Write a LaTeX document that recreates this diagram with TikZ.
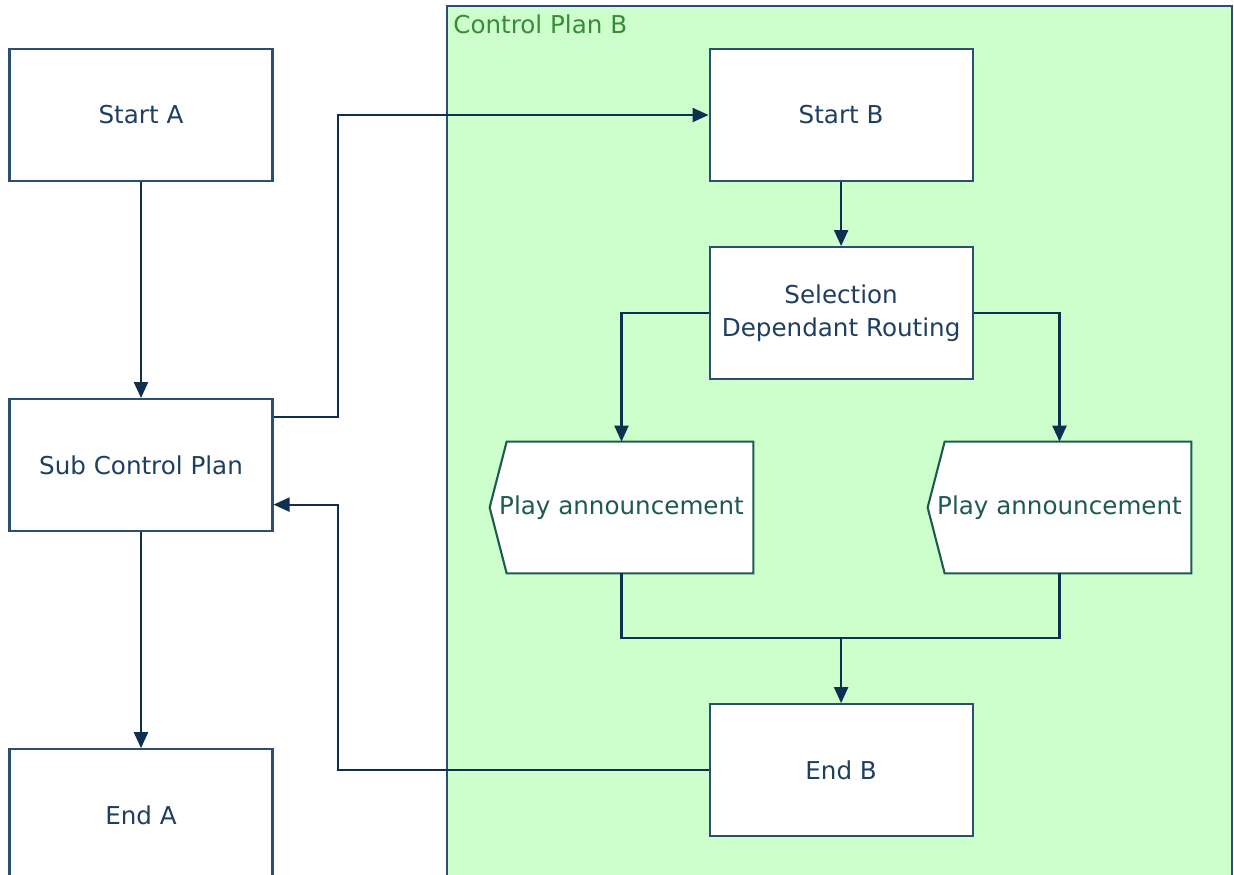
\documentclass[tikz,border=0pt]{standalone}
\usepackage{fontspec}
\setmainfont{DejaVu Sans}
\usetikzlibrary{positioning, arrows.meta, backgrounds}
\definecolor{boxline}{HTML}{2C4F70}
\definecolor{boxtext}{HTML}{1F3F60}
\definecolor{arrowline}{HTML}{0E2F50}
\definecolor{planfill}{HTML}{CCFFCC}
\definecolor{plantext}{HTML}{3A8A3A}
\definecolor{playline}{HTML}{1E5A50}

\begin{document}
\begin{tikzpicture}[
    node distance=4.32cm,
    box/.style={
        rectangle,
        draw=boxline,
        fill=white,
        line width=1.2pt,
        align=center,
        minimum width=5.26cm,
        minimum height=2.64cm,
        text=boxtext,
        font=\fontsize{14}{18.7}\selectfont
    },
    playbox/.style={
        rectangle,
        minimum width=5.26cm,
        minimum height=2.62cm,
        text=playline,
        font=\fontsize{14}{18.7}\selectfont
    },
    arrow/.style={
        -{Triangle[length=0.32cm, width=0.28cm]},
        draw=arrowline,
        line width=1.2pt
    },
    line/.style={
        draw=arrowline,
        line width=1.2pt
    }
]
\useasboundingbox (0,0) rectangle (24.68,-17.5);

\begin{scope}[on background layer]
\filldraw[fill=planfill, draw=boxline, line width=1.2pt] (8.94,-0.12) rectangle (24.64,-18);
\end{scope}

\node[anchor=base west, inner sep=0pt, text=plantext, font=\fontsize{14}{18.7}\selectfont] (planlabel) at (9.06,-0.68)
{Control Plan B};

\node[box] (startA) at (2.82,-2.30)
{Start A};

\node[box, below=of startA] (subplan)
{Sub Control Plan};

\node[box, below=of subplan] (endA)
{End A};

\node[box, right=8.70cm of startA] (startB)
{Start B};

\node[box, below=1.28cm of startB] (selection)
{Selection\\Dependant Routing};

\node[playbox] (play1) at (12.43,-10.15)
{Play announcement};

\node[playbox] (play2) at (21.19,-10.15)
{Play announcement};

\node[box, below=6.46cm of selection] (endB)
{End B};

\begin{scope}[on background layer]
\foreach \p in {play1, play2}
    \filldraw[fill=white, draw=playline, line width=1.2pt] ([xshift=0.34cm]\p.north west) -- (\p.north east) -- (\p.south east) -- ([xshift=0.34cm]\p.south west) -- (\p.west) -- cycle;
\end{scope}

\coordinate (busx) at (6.76,0);
\coordinate (subout) at ([yshift=0.97cm]subplan.east);
\coordinate (subin) at ([yshift=-0.79cm]subplan.east);
\coordinate (merge) at ([yshift=1.3cm]endB.north);

\draw[arrow] (startA) -- (subplan);
\draw[arrow] (subplan) -- (endA);
\draw[arrow] (subout) -- (subout -| busx) |- (startB);
\draw[arrow] (endB) -- (endB -| busx) |- (subin);
\draw[arrow] (startB) -- (selection);
\draw[arrow] (selection) -| (play1);
\draw[arrow] (selection) -| (play2);
\draw[line] (play1) |- (merge) -| (play2);
\draw[arrow] (merge) -- (endB);
\end{tikzpicture}
\end{document}
